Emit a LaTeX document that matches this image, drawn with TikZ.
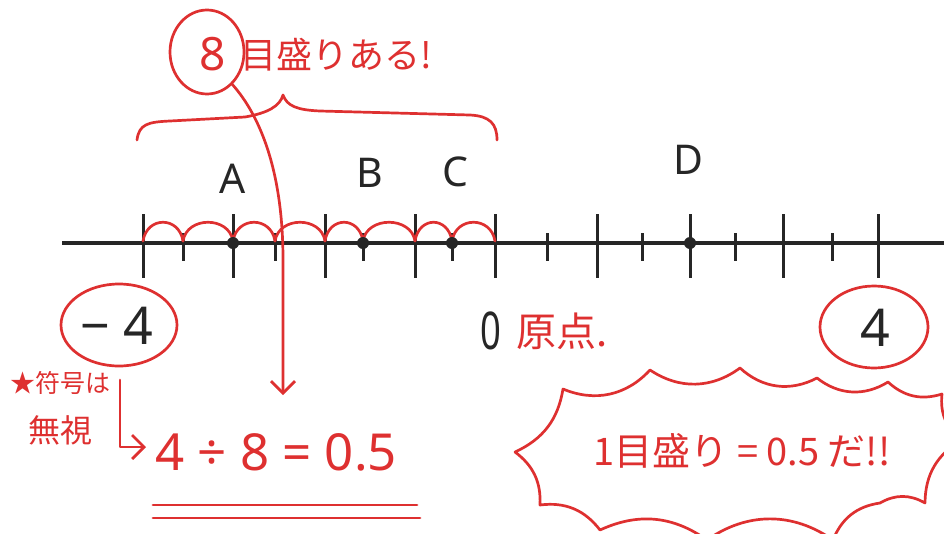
\documentclass[tikz,border=0pt]{standalone}
\usepackage{fontspec}
\setmainfont{Noto Sans}
\newfontfamily\jp{Noto Sans CJK JP}
\usetikzlibrary{shapes.geometric,arrows.meta,calc}
\definecolor{pen}{RGB}{222,48,48}
\definecolor{ink}{RGB}{38,38,38}
\begin{document}
\begin{tikzpicture}[x=1pt,y=-1pt,
  axisline/.style={ink,line width=3.2pt},
  tickmark/.style={ink,line width=3pt},
  redline/.style={pen,line width=2.7pt,line cap=round,line join=round},
  letter/.style={ink,inner sep=0pt,font=\fontsize{41}{41}\selectfont},
  bignum/.style={ink,inner sep=0pt,font=\fontsize{52}{52}\selectfont},
  redtext/.style={pen,inner sep=0pt},
  ring/.style={draw=pen,line width=2.7pt,ellipse,inner sep=0pt},
  pt/.style={circle,fill=ink,inner sep=0pt,minimum size=12pt},
  barb/.style={-{Straight Barb[length=12pt,width=24pt,line width=2.7pt]}}
]
\useasboundingbox (0,0) rectangle (944,533);

% number line
\coordinate (axL) at (62,243);
\coordinate (axR) at (944,243);
\draw[axisline] (axL) -- (axR);

% long ticks
\foreach \x in {143,233,325,415,495,597,690,783,878}
  \draw[tickmark] (\x,214) -- (\x,278);
% short ticks
\foreach \x in {183,275,363,452,547,642,735,832}
  \draw[tickmark] (\x,233) -- (\x,261);

% red scallops from -4 to 0
\foreach \a/\b in {143/183,183/233,233/275,275/325,325/363,363/415,415/452,452/495}
  \draw[redline] (\a,241) .. controls (\a+4,216) and (\b-4,216) .. (\b,241);

% points
\node[pt] (pA) at (233,243) {};
\node[pt] (pB) at (363,243) {};
\node[pt] (pC) at (452,243) {};
\node[pt] (pD) at (690,243) {};

% letters
\node[letter] (lA) at (233,179) {A};
\node[letter] (lB) at (370,173) {B};
\node[letter] (lC) at (455,172) {C};
\node[letter] (lD) at (688,160) {D};

% numbers under axis
\node[bignum] (nm4) at (117,326) {− 4};
\node[ring,minimum width=116pt,minimum height=82pt] (rm4) at (119,325) {};
\node[bignum,xscale=0.7] (n0) at (491,331) {0};
\node[redtext,font=\jp\fontsize{40}{40}\selectfont,anchor=west] (gen) at (516,331) {原点.};
\node[bignum] (n4) at (875,328) {4};
\node[ring,minimum width=108pt,minimum height=82pt] (r4) at (874,327) {};

% top annotation
\node[ring,minimum width=74pt,minimum height=84pt] (c8) at (207,52) {};
\node[redtext,font=\fontsize{46}{46}\selectfont] (n8) at (213,54) {8};
\node[redtext,font=\jp\fontsize{36}{36}\selectfont,anchor=west] (memori) at (240,55) {目盛りある!};

% brace
\draw[redline] (137,140) .. controls (139,124) and (148,122) .. (170,121)
  -- (245,117) .. controls (268,113) and (280,106) .. (283,95)
  .. controls (287,106) and (297,110) .. (320,111)
  -- (470,115) .. controls (490,116) and (497,124) .. (497,140);

% arrow from circled 8 down to the calculation
\coordinate (tipA) at (283,395);
\draw[redline,barb] (c8.-52) .. controls (262,118) and (283,175) .. (283,260) -- (tipA);

% sign note
\node[redtext,font=\jp\fontsize{25}{25}\selectfont] (note1) at (60,383) {★符号は};
\node[redtext,font=\jp\fontsize{32}{32}\selectfont] (note2) at (60,430) {無視};
\coordinate (bent0) at (120,380);
\coordinate (bent1) at (120,447);
\coordinate (bent2) at (146,447);
\draw[redline,barb] (bent0) -- (bent1) -- (bent2);

% calculation
\node[redtext,font=\fontsize{51}{51}\selectfont,anchor=west] (calc) at (155,452) {4 ÷ 8 = 0.5};
\coordinate (u1a) at (153,505); \coordinate (u1b) at (417,505);
\coordinate (u2a) at (153,518); \coordinate (u2b) at (420,518);
\draw[redline] (u1a) -- (u1b);
\draw[redline] (u2a) -- (u2b);

% burst
\draw[redline,fill=white]
  (515,452) to[bend right=28] (563,389)
  to[bend right=35] (650,370)
  to[bend right=35] (740,368)
  to[bend right=35] (817,378)
  to[bend right=35] (888,382)
  to[bend right=30] (942,394)
  to[bend right=30] (962,440)
  to[bend right=30] (925,503)
  to[bend right=30] (880,503)
  to[bend right=30] (833,540)
  to[bend right=35] (707,540)
  to[bend right=30] (600,530)
  to[bend right=30] (540,505)
  to[bend right=28] (515,452);
\node[redtext,font=\jp\fontsize{38}{38}\selectfont] (burst) at (742,451) {1目盛り = 0.5 だ!!};
\end{tikzpicture}
\end{document}
